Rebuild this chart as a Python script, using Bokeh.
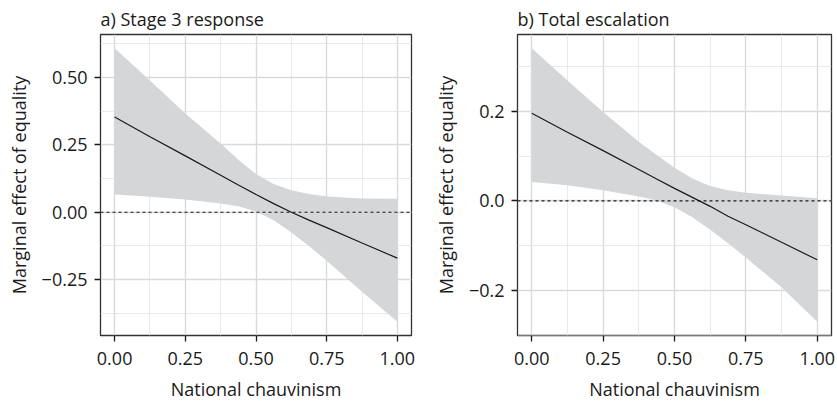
from bokeh.plotting import figure
from bokeh.layouts import row
from bokeh.models import ColumnDataSource, Span, FixedTicker, Range1d
from bokeh.embed import file_html
from bokeh.resources import INLINE

# ---- data ----
x_grid = [0.0, 0.125, 0.25, 0.375, 0.4375, 0.5, 0.5625, 0.625, 0.6875, 0.75, 0.875, 1.0]

a_est = [0.353, 0.280, 0.209, 0.137, 0.101, 0.066, 0.032, 0.000, -0.029, -0.057, -0.114, -0.170]
a_upper = [0.608, 0.488, 0.366, 0.255, 0.195, 0.142, 0.105, 0.082, 0.068, 0.058, 0.051, 0.050]
a_lower = [0.066, 0.057, 0.047, 0.032, 0.022, 0.003, -0.030, -0.075, -0.125, -0.180, -0.295, -0.406]

b_est = [0.195, 0.153, 0.112, 0.070, 0.049, 0.028, 0.008, -0.012, -0.034, -0.053, -0.092, -0.131]
b_upper = [0.340, 0.268, 0.198, 0.132, 0.102, 0.074, 0.050, 0.033, 0.024, 0.018, 0.012, 0.006]
b_lower = [0.042, 0.035, 0.024, 0.010, 0.001, -0.014, -0.036, -0.064, -0.094, -0.126, -0.192, -0.269]

x_ticks = [0.0, 0.25, 0.5, 0.75, 1.0]
x_tick_labels = ["0.00", "0.25", "0.50", "0.75", "1.00"]
a_y_ticks = [-0.25, 0.0, 0.25, 0.5]
a_y_tick_labels = ["\u22120.25", "0.00", "0.25", "0.50"]
b_y_ticks = [-0.2, 0.0, 0.2]
b_y_tick_labels = ["\u22120.2", "0.0", "0.2"]

titles = ["a) Stage 3 response", "b) Total escalation"]
x_label = "National chauvinism"
y_label = "Marginal effect of equality"

FONT = "Open Sans"


def make_panel(title, est, upper, lower, yticks, ylabels, width, border_left, border_right):
    lo = min(lower)
    hi = max(upper)
    pad = (hi - lo) * 0.05
    p = figure(width=width, height=403, output_backend="svg", toolbar_location=None,
               x_range=Range1d(-0.05, 1.05), y_range=Range1d(lo - pad, hi + pad),
               min_border_left=border_left, min_border_right=border_right,
               min_border_top=32, min_border_bottom=66,
               background_fill_color="white", border_fill_color="white")
    p.title.text = title
    p.title.text_font = FONT
    p.title.text_font_size = "18px"
    p.title.text_font_style = "normal"
    p.title.text_color = "#1a1a1a"
    p.title.align = "left"
    p.title.offset = 0
    p.title.standoff = 8

    src = ColumnDataSource(dict(x=x_grid, est=est, upper=upper, lower=lower))
    p.varea(x="x", y1="lower", y2="upper", source=src, fill_color="#d5d6d8", fill_alpha=1.0)
    p.add_layout(Span(location=0, dimension="width", line_color="#1a1a1a",
                      line_dash="3 3", line_width=1.2))
    p.line(x="x", y="est", source=src, line_color="#1a1a1a", line_width=1.2)

    p.xaxis.ticker = FixedTicker(ticks=x_ticks, minor_ticks=[0.125, 0.375, 0.625, 0.875])
    p.xaxis.major_label_overrides = dict(zip(x_ticks, x_tick_labels))
    step = yticks[1] - yticks[0]
    minors = [yticks[0] - step / 2] + [t + step / 2 for t in yticks]
    p.yaxis.ticker = FixedTicker(ticks=yticks, minor_ticks=minors)
    p.yaxis.major_label_overrides = dict(zip(yticks, ylabels))

    for ax in (p.xaxis, p.yaxis):
        ax.axis_line_color = None
        ax.major_tick_line_color = "#1a1a1a"
        ax.major_tick_line_width = 1.3
        ax.major_tick_out = 6
        ax.major_tick_in = 0
        ax.minor_tick_line_color = None
        ax.major_label_text_font = FONT
        ax.major_label_text_font_size = "18px"
        ax.major_label_text_color = "#1a1a1a"
        ax.axis_label_text_font = FONT
        ax.axis_label_text_font_size = "18px"
        ax.axis_label_text_font_style = "normal"
        ax.axis_label_text_color = "#1a1a1a"
    p.xaxis.axis_label = x_label
    p.yaxis.axis_label = y_label
    p.xaxis.major_label_standoff = 10
    p.yaxis.major_label_standoff = 7
    p.xaxis.axis_label_standoff = 9
    p.yaxis.axis_label_standoff = 8

    for g in (p.xgrid, p.ygrid):
        g.grid_line_color = "#d9d9d9"
        g.grid_line_width = 1.4
        g.minor_grid_line_color = "#e4e4e4"
        g.minor_grid_line_width = 0.8

    p.outline_line_color = "#333333"
    p.outline_line_width = 1.3
    return p


pa = make_panel(titles[0], a_est, a_upper, a_lower, a_y_ticks, a_y_tick_labels, 420, 100, 9)
pb = make_panel(titles[1], b_est, b_upper, b_lower, b_y_ticks, b_y_tick_labels, 417, 97, 6)

layout = row(pa, pb, spacing=0)
open("out.html", "w").write(file_html(layout, INLINE))
